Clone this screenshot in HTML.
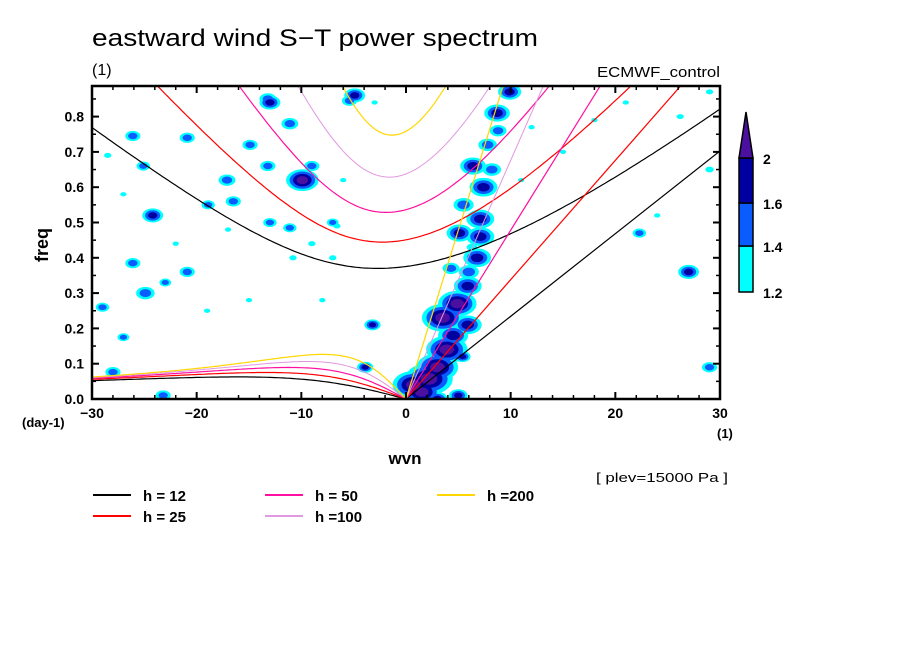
<!DOCTYPE html>
<html><head><meta charset="utf-8"><style>
body{margin:0;background:#fff;}
svg{display:block;font-family:"Liberation Sans",sans-serif;}
</style></head><body>
<svg id="chart" width="904" height="654" viewBox="0 0 904 654">
<defs><clipPath id="clip"><rect x="92" y="86" width="628" height="313"/></clipPath></defs>
<rect width="904" height="654" fill="#fff"/>
<text x="92" y="46" font-size="24" textLength="446" lengthAdjust="spacingAndGlyphs">eastward wind S−T power spectrum</text>
<text x="92" y="75" font-size="16">(1)</text>
<text x="720" y="77" font-size="15" text-anchor="end" textLength="123" lengthAdjust="spacingAndGlyphs">ECMWF_control</text>
<g id="blobs" clip-path="url(#clip)"></g>
<g id="curves" clip-path="url(#clip)"></g>
<g id="axes"></g>
<text transform="translate(48,245) rotate(-90)" font-size="18" font-weight="bold" text-anchor="middle">freq</text>
<text x="22" y="427" font-size="13" font-weight="bold">(day-1)</text>
<text x="717" y="438" font-size="13" font-weight="bold">(1)</text>
<text x="405" y="464" font-size="17" font-weight="bold" text-anchor="middle">wvn</text>
<text x="596" y="482" font-size="13" textLength="132" lengthAdjust="spacingAndGlyphs">[ plev=15000 Pa ]</text>
<g id="legend"></g>
<g id="colorbar"></g>
</svg>
<script>
const depths=[12,25,50,100,200];
const depthColors=['#000000','#ff0000','#ff10a0','#e098e0','#ffd700'];
const yTicks=[0,0.1,0.2,0.3,0.4,0.5,0.6,0.7,0.8];
const xTicks=[-30,-20,-10,0,10,20,30];
const cbLevels=[1.2,1.4,1.6,2];
const cbColors=['#00ffff','#0a5cff','#0000a0','#4b10a0'];
// blobs: wavenumber, frequency, contour level (1..4), size
const blobK=[2.2,3.5,4.9,5.9,5.9,6.8,7.1,7.1,7.4,6.4,8.7,9.9,5.1,0.7,3.9,3.0,1.5,4.5,6.0,5.5,7.8,8.2,8.8,6.3,4.3,-3.2,5.4,5.0,-3.9,
 -24.2,-26.1,-20.9,-25.1,-17.1,-16.5,-14.9,-9.9,-13.2,-11.1,-26.1,-20.9,-23,-24.9,-29,-27,-28,-23.2,-18.9,-13,-13.2,-13,-11.1,-7,-9,-10.8,-7,-9,-4.9,-5.4,-6.6,
 27,29,22.3,29,26.2,21,29,-28.5,-22,-17,-8,-3,12,15,18,24,-19,-27,3,11,-15,-6];
const blobF=[0.057,0.23,0.27,0.21,0.32,0.40,0.46,0.51,0.60,0.66,0.81,0.87,0.47,0.04,0.14,0.09,0.02,0.18,0.36,0.55,0.72,0.65,0.76,0.43,0.37,0.21,0.12,0.01,0.09,
 0.52,0.745,0.74,0.66,0.62,0.56,0.72,0.62,0.85,0.78,0.385,0.36,0.33,0.30,0.26,0.175,0.076,0.01,0.55,0.50,0.66,0.84,0.485,0.50,0.66,0.40,0.40,0.44,0.86,0.845,0.49,
 0.36,0.09,0.47,0.65,0.80,0.84,0.87,0.69,0.44,0.48,0.28,0.84,0.77,0.70,0.79,0.52,0.25,0.58,0.0,0.62,0.28,0.62];
const blobL=[4,4,4,3,3,3,3,3,3,3,3,3,3,4,4,4,4,3,2,2,2,2,2,1,2,3,3,3,3,
 3,2,2,2,2,2,2,4,2,2,2,2,2,2,2,2,2,2,2,2,2,3,2,2,2,1,1,1,3,2,1,
 3,2,2,1,1,1,1,1,1,1,1,1,1,1,1,1,1,1,3,1,1,1];
const blobS=[1.6,1.4,1.3,1.2,1.2,1.2,1.2,1.2,1.2,1.1,1.1,1,1.1,1.4,1.4,1.4,1.3,1.3,1.2,1.2,1.1,1.1,1,1,1,0.7,0.7,0.8,0.7,
 0.9,0.9,0.9,0.8,1,0.9,0.9,1.1,1,1,0.9,0.9,0.7,1.1,0.8,0.7,0.9,0.9,0.8,0.8,0.9,0.9,0.8,0.7,0.9,0.7,0.7,0.7,0.9,0.9,0.7,
 0.9,0.9,0.8,0.8,0.7,0.6,0.7,0.7,0.6,0.6,0.6,0.6,0.6,0.6,0.6,0.6,0.6,0.6,0.9,0.6,0.6,0.6];

const NS='http://www.w3.org/2000/svg';
const X0=92,X1=720,Y0=399,Y1=86;
const xs=k=>X0+(k+30)/60*(X1-X0);
const ys=f=>Y0-f/0.1*35.3;
function mk(tag,attrs,parent){const e=document.createElementNS(NS,tag);for(const a in attrs)e.setAttribute(a,attrs[a]);parent.appendChild(e);return e;}

const gb=document.getElementById('blobs');
for(let L=1;L<=4;L++){
  for(let i=0;i<blobK.length;i++){
    if(blobL[i]<L)continue;
    const s=blobS[i], r=(blobL[i]-L+1);
    const e=mk('ellipse',{cx:xs(blobK[i]),cy:ys(blobF[i]),rx:(2+3.2*r)*s,ry:(1.5+2.1*r)*s,fill:cbColors[L-1]},gb);
    
    
  }
}
const a=6.371e6,g=9.81,Om=7.292e-5,beta=2*Om/a,toCpd=86400/(2*Math.PI);
const gc=document.getElementById('curves');
depths.forEach((h,j)=>{
  const c=Math.sqrt(g*h),col=depthColors[j],sw=j===3?1:1.2;
  let d='';
  for(let s=-30;s<=30.001;s+=0.25){
    const kk=s/a; const A=c*c*kk*kk+3*beta*c, B=beta*c*c*kk;
    let w=Math.sqrt(A)*1.5+1e-6;
    for(let it=0;it<40;it++){const f=w*w*w-A*w-B,fp=3*w*w-A;w-=f/fp;}
    d+=(d?'L':'M')+xs(s).toFixed(1)+','+ys(w*toCpd).toFixed(1);
  }
  let p=mk('path',{d:d,fill:'none',stroke:col,'stroke-width':sw},gc);
  
  
  d='';
  for(let s=-30;s<=0.001;s+=0.25){
    const kk=s/a; const w=-beta*kk/(kk*kk+3*beta/c);
    d+=(d?'L':'M')+xs(s).toFixed(1)+','+ys(w*toCpd).toFixed(1);
  }
  p=mk('path',{d:d,fill:'none',stroke:col,'stroke-width':sw},gc);
  
  
  p=mk('path',{d:'M'+xs(0)+','+ys(0)+'L'+xs(30)+','+ys(c*30/a*toCpd),fill:'none',stroke:col,'stroke-width':sw},gc);
  
  
});
const ga=document.getElementById('axes');
let fr=mk('rect',{x:X0,y:Y1,width:X1-X0,height:Y0-Y1,fill:'none',stroke:'#000','stroke-width':2.5},ga);


for(let k=-30;k<=30;k+=2){
  const big=k%10===0,L=big?7:4,x=xs(k);
  mk('line',{x1:x,y1:Y0,x2:x,y2:Y0-L,stroke:'#000','stroke-width':big?2:1.5},ga);
  mk('line',{x1:x,y1:Y1,x2:x,y2:Y1+L,stroke:'#000','stroke-width':big?2:1.5},ga);
}
for(let f=0.05;f<0.88;f+=0.05){
  const big=Math.abs(f*10-Math.round(f*10))<0.01,L=big?7:4,y=ys(f);
  mk('line',{x1:X0,y1:y,x2:X0+L,y2:y,stroke:'#000','stroke-width':big?2:1.5},ga);
  mk('line',{x1:X1,y1:y,x2:X1-L,y2:y,stroke:'#000','stroke-width':big?2:1.5},ga);
}
yTicks.forEach(v=>{
  const t=mk('text',{x:84,y:ys(v)+5,'font-size':14,'font-weight':'bold','text-anchor':'end'},ga);
  t.textContent=v.toFixed(1);
  
  
});
xTicks.forEach(v=>{
  const t=mk('text',{x:xs(v),y:418,'font-size':14,'font-weight':'bold','text-anchor':'middle'},ga);
  t.textContent=v<0?'−'+(-v):String(v);
  
  
});
const gl=document.getElementById('legend');
const legX=[93,93,265,265,437],legY=[495,516,495,516,495];
depths.forEach((h,j)=>{
  const ln=mk('line',{x1:legX[j],y1:legY[j],x2:legX[j]+38,y2:legY[j],stroke:depthColors[j],'stroke-width':2},gl);
  
  
  const t=mk('text',{x:legX[j]+50,y:legY[j]+6,'font-size':15,'font-weight':'bold'},gl);
  t.textContent=h>=100?'h ='+h:'h = '+h;
  
  
});
const gcb=document.getElementById('colorbar');
const cbY=[292,246,203,158];
for(let i=0;i<3;i++){
  const r=mk('rect',{x:739,y:cbY[i+1],width:14,height:cbY[i]-cbY[i+1],fill:cbColors[i],stroke:'#000','stroke-width':1.5},gcb);
  
  
}
const tri=mk('polygon',{points:'739,158 753,158 746,112',fill:cbColors[3],stroke:'#000','stroke-width':1.5},gcb);


cbLevels.forEach((v,i)=>{
  const t=mk('text',{x:763,y:cbY[i]+6,'font-size':14,'font-weight':'bold'},gcb);
  t.textContent=String(v);
  
  
});
</script>
</body></html>
